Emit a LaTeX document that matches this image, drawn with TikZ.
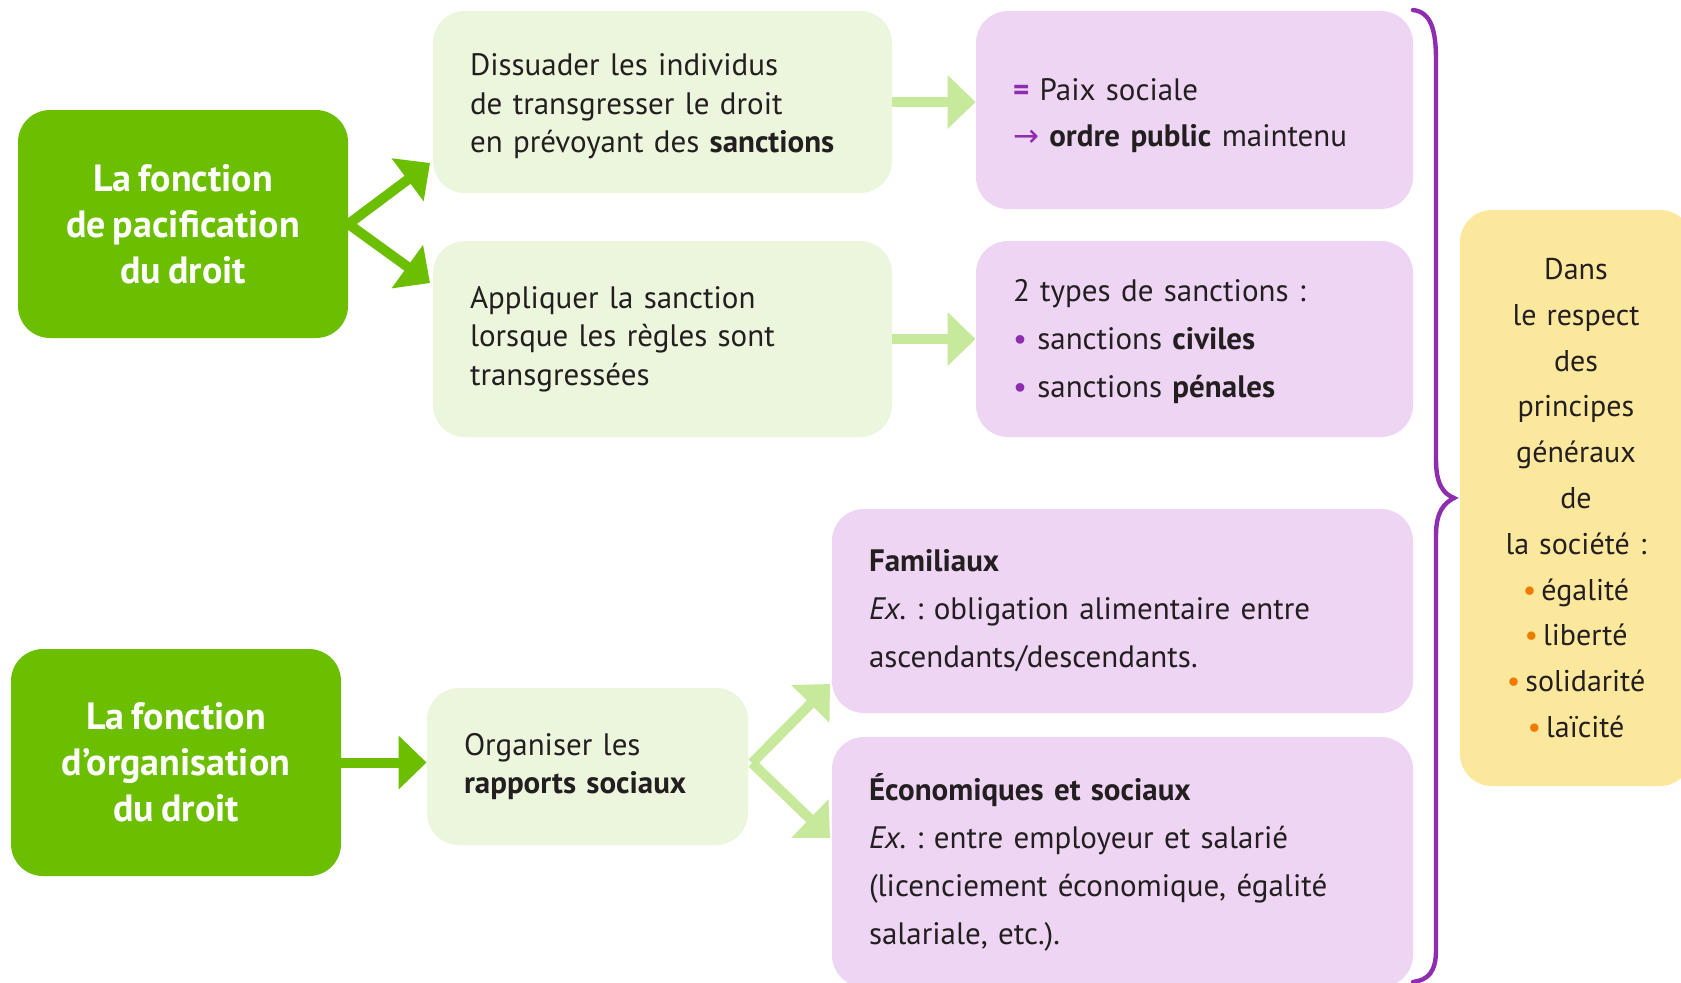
\documentclass[tikz,border=0pt]{standalone}
\usepackage{fontspec}
\setmainfont{PT Sans}[WordSpace=0.75]
\newfontfamily\symfont{DejaVu Sans}
\usetikzlibrary{arrows.meta}
\definecolor{dgreen}{HTML}{6CBE00}
\definecolor{lgreenfill}{HTML}{EBF6DD}
\definecolor{lgreenarrow}{HTML}{C6E99B}
\definecolor{purplefill}{HTML}{EED5F3}
\definecolor{purpdark}{HTML}{8E2DAF}
\definecolor{yellowfill}{HTML}{FCE89C}
\definecolor{orangeb}{HTML}{F07A00}
\definecolor{txt}{HTML}{231F20}
\newcommand{\pbul}{\textcolor{purpdark}{•}}
\newcommand{\obul}{\textcolor{orangeb}{•}}
\frenchspacing
\begin{document}
\begin{tikzpicture}[x=0.5pt,y=-0.5pt,
  basebox/.style={rounded corners=16pt, inner xsep=18.5pt, inner ysep=0pt, text=txt, anchor=center},
  greenbox/.style={basebox, fill=dgreen, text=white, align=center, font=\bfseries\fontsize{19}{23}\selectfont},
  lgbox/.style={basebox, fill=lgreenfill, align=left, font=\fontsize{15.5}{19.3}\selectfont},
  pbox/.style={basebox, fill=purplefill, align=left, font=\fontsize{15.5}{23}\selectfont},
  pboxw/.style={pbox, font=\fontsize{15.5}{24}\selectfont},
  ybox/.style={basebox, inner xsep=4pt, fill=yellowfill, align=center, font=\fontsize{15}{22.9}\selectfont},
  darrow/.style={draw=dgreen, line width=5pt, -{Triangle[width=26pt,length=14pt]}},
  larrow/.style={draw=lgreenarrow, line width=5pt, -{Triangle[width=26pt,length=14pt]}},
  bracestyle/.style={draw=purpdark, line width=2.2pt, line cap=round}
]
\useasboundingbox (0,0) rectangle (1681,982);
\fill[white] (0,0) rectangle (1681,982);

% green boxes
\node[greenbox, minimum width=165pt, minimum height=114pt] (g1) at (183,224)
  {La fonction\\de pacification\\du droit};
\node[greenbox, minimum width=165pt, minimum height=113.5pt] (g2) at (176,762.5)
  {La fonction\\d'organisation\\du droit};

% light green boxes
\node[lgbox, minimum width=229.5pt, minimum height=91pt, text width=192.5pt] (a) at (662.5,102)
  {\rule{0pt}{15.5pt}Dissuader les individus\\de transgresser le droit\\en prévoyant des \textbf{sanctions}};
\node[lgbox, minimum width=229.5pt, minimum height=98pt, text width=192.5pt] (b) at (662.5,339)
  {Appliquer la sanction\\lorsque les règles sont\\transgressées};
\node[lgbox, minimum width=160.5pt, minimum height=78.5pt, text width=123.5pt] (c) at (587.5,766.5)
  {Organiser les\\\textbf{rapports sociaux}};

% purple boxes
\node[pbox, minimum width=218.5pt, minimum height=99pt, text width=181.5pt] (p1) at (1194.5,110)
  {\rule{0pt}{17pt}\textcolor{purpdark}{\textbf{=}} Paix sociale\\{\symfont\textcolor{purpdark}{→}} \textbf{ordre public} maintenu};
\node[pboxw, minimum width=218.5pt, minimum height=98pt, text width=181.5pt] (p2) at (1194.5,339)
  {\rule{0pt}{14pt}2 types de sanctions :\\\pbul\ sanctions \textbf{civiles}\\\pbul\ sanctions \textbf{pénales}};
\node[pboxw, minimum width=290.5pt, minimum height=102pt, text width=253.5pt] (p3) at (1122.5,611)
  {\textbf{Familiaux}\\\textit{Ex.} : obligation alimentaire entre\\ascendants/descendants.};
\node[pboxw, minimum width=290.5pt, minimum height=125pt, text width=253.5pt] (p4) at (1122.5,862)
  {\textbf{Économiques et sociaux}\\\textit{Ex.} : entre employeur et salarié\\(licenciement économique, égalité\\salariale, etc.).};

% yellow box
\node[ybox, minimum width=116pt, minimum height=288pt, text width=108pt] (y) at (1576,498)
  {Dans\\le respect\\des\\principes\\généraux\\de\\la société :\\\obul\,égalité\\\obul\,liberté\\\obul\,solidarité\\\obul\,laïcité};

% arrow end points
\coordinate (t1) at (430,163);
\coordinate (t2) at (430,283);
\coordinate (t3) at (830,684);
\coordinate (t4) at (830,838);
\coordinate (fc) at (752,763);

% dark green arrows
\draw[darrow] (g1.east) -- (t1);
\draw[darrow] (g1.east) -- (t2);
\draw[darrow] (g2.east) -- (g2.east -| c.west);

% light green arrows
\draw[larrow] (a.east) -- (a.east -| p1.west);
\draw[larrow] (b.east) -- (b.east -| p2.west);
\draw[larrow] (fc) -- (t3);
\draw[larrow] (fc) -- (t4);

% brace
\draw[bracestyle] (1413,10) .. controls (1431,12) and (1436,30) .. (1436,60)
  -- (1436,460) .. controls (1436,485) and (1444,494) .. (1454,498)
  .. controls (1444,503) and (1436,512) .. (1436,535)
  -- (1436,950) .. controls (1436,972) and (1428,980) .. (1413,982);
\end{tikzpicture}
\end{document}
